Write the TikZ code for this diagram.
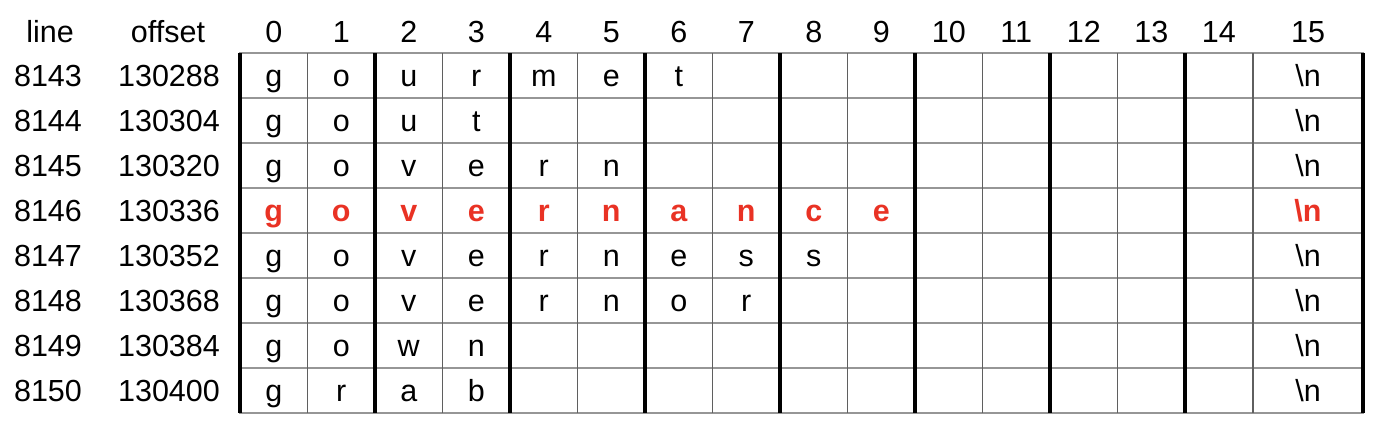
\documentclass[tikz,border=0pt]{standalone}
\usepackage{fontspec}
\setmainfont{Liberation Sans}
\definecolor{hlred}{RGB}{233,50,36}
\definecolor{hline}{RGB}{150,150,150}
\definecolor{vthin}{RGB}{95,95,95}
\begin{document}
\begin{tikzpicture}[x=1pt,y=-1pt,
  txt/.style={anchor=base,inner sep=0pt,font=\fontsize{30.5}{36}\selectfont},
  redtxt/.style={txt,text=hlred,font=\fontsize{30.5}{36}\selectfont\bfseries},
  hrule/.style={draw=hline,line width=1.8pt},
  vthinrule/.style={draw=vthin,line width=1.4pt},
  vthickrule/.style={draw=black,line width=3.4pt}]
\useasboundingbox (0,0) rectangle (1388,434);
% header
\node[txt] (hline) at (50,42) {line};
\node[txt] (hoff) at (168,42) {offset};
\foreach \c in {0,...,14} {
  \node[txt] (h\c) at ({240+67.5*\c+33.75},42) {\c};
}
\node[txt] (h15) at (1308,42) {15};
% horizontal lines
\foreach \r in {0,...,8} {
  \draw[hrule] (239,{53+45*\r}) -- (1364,{53+45*\r});
}
% thin verticals
\foreach \c in {1,3,5,7,9,11,13} {
  \draw[vthinrule] ({240+67.5*\c},53) -- ({240+67.5*\c},413);
}
\draw[vthinrule] (1253,53) -- (1253,413);
% thick verticals
\foreach \c in {0,2,4,6,8,10,12,14} {
  \draw[vthickrule] ({240+67.5*\c},53) -- ({240+67.5*\c},413);
}
\draw[vthickrule] (1363,53) -- (1363,413);
% row labels
\foreach \r in {1,...,8} {
  \node[txt] (l\r) at (48,{53+45*(\r-1)+33}) {\the\numexpr 8142+\r\relax};
  \node[txt] (o\r) at (169,{53+45*(\r-1)+33}) {\the\numexpr 130272+16*\r\relax};
}
% cell letters
\foreach \row [count=\r] in {{g,o,u,r,m,e,t},{g,o,u,t},{g,o,v,e,r,n},{},{g,o,v,e,r,n,e,s,s},{g,o,v,e,r,n,o,r},{g,o,w,n},{g,r,a,b}} {
  \foreach \ch [count=\c from 0] in \row {
    \node[txt] (c\r-\c) at ({240+67.5*\c+33.75},{53+45*(\r-1)+33}) {\ch};
  }
}
\foreach \ch [count=\c from 0] in {g,o,v,e,r,n,a,n,c,e} {
  \node[redtxt] (c4-\c) at ({240+67.5*\c+33.75},{53+45*3+33}) {\ch};
}
% newline column
\foreach \r in {1,2,3,5,6,7,8} {
  \node[txt] (n\r) at (1308,{53+45*(\r-1)+33}) {\textbackslash n};
}
\node[redtxt] (n4) at (1308,{53+45*3+33}) {\textbackslash n};
\end{tikzpicture}
\end{document}
